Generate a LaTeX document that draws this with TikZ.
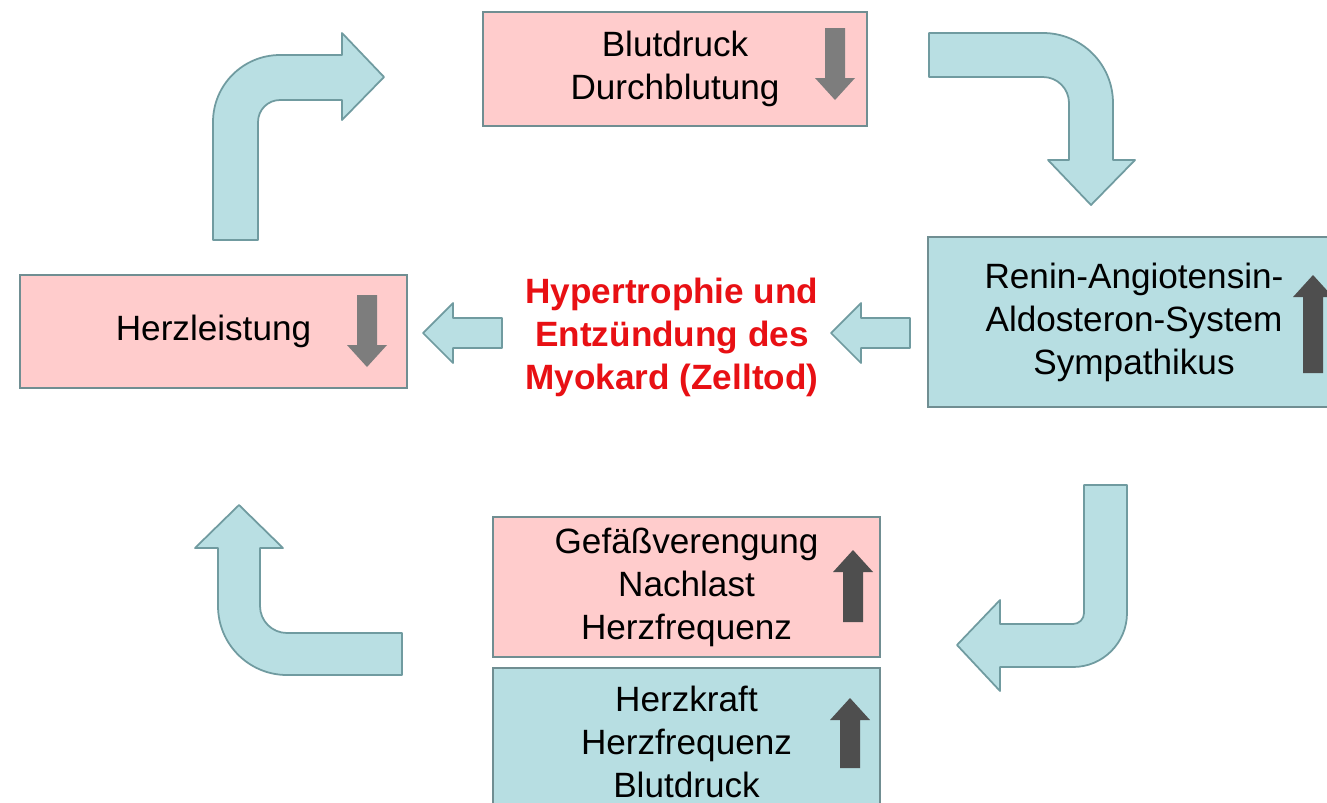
\documentclass[tikz,border=0pt]{standalone}
\usepackage{fontspec}
\setmainfont{Liberation Sans}
\usetikzlibrary{positioning}
\definecolor{rosa}{RGB}{255,204,204}
\definecolor{hellblau}{RGB}{183,222,226}
\definecolor{rand}{RGB}{112,142,146}
\definecolor{pfeilblau}{RGB}{185,223,227}
\definecolor{pfeilrand}{RGB}{112,155,160}
\definecolor{grau}{RGB}{125,125,125}
\definecolor{dunkelgrau}{RGB}{78,78,78}
\definecolor{warnrot}{RGB}{232,16,20}
\newcommand{\pfeilrunter}[3]{\fill[grau] ({#1-10},#2) -- ({#1+10},#2) -- ({#1+10},{#3-22}) -- ({#1+20},{#3-22}) -- (#1,#3) -- ({#1-20},{#3-22}) -- ({#1-10},{#3-22}) -- cycle;}
\newcommand{\pfeilhoch}[3]{\fill[dunkelgrau] ({#1-10},#3) -- ({#1+10},#3) -- ({#1+10},{#2+22}) -- ({#1+20},{#2+22}) -- (#1,#2) -- ({#1-20},{#2+22}) -- ({#1-10},{#2+22}) -- cycle;}
\tikzset{
  kasten/.style={draw=rand, line width=1.2pt, inner sep=0pt, align=center,
    font=\fontsize{20}{24.5}\selectfont},
  blockpfeil/.style={fill=pfeilblau, draw=pfeilrand, line width=1pt, line join=round}
}
\begin{document}
\begin{tikzpicture}[x=0.02cm,y=-0.02cm]
\clip (0,0) rectangle (1327,802);
\fill[white] (0,0) rectangle (1327,802);
% Kaesten
\node[kasten, fill=rosa, minimum width=7.68cm, minimum height=2.28cm] (blutdruck) at (675,69) {Blutdruck\\Durchblutung};
\node[kasten, fill=rosa, minimum width=7.74cm, minimum height=2.26cm] (herzleistung) at (213.5,331.5) {Herzleistung};
\node[kasten, fill=hellblau, minimum width=8.24cm, minimum height=3.4cm] (raas) at (1134,322) {Renin-Angiotensin-\\Aldosteron-System\\Sympathikus};
\node[kasten, fill=rosa, minimum width=7.74cm, minimum height=2.8cm] (nachlast) at (686.5,587) {Gefäßverengung\\Nachlast\\Herzfrequenz};
\node[kasten, fill=hellblau, minimum width=7.74cm, minimum height=2.94cm] (herzkraft) at (686.5,741.5) {Herzkraft\\Herzfrequenz\\Blutdruck};
\node[align=center, text=warnrot, font=\fontsize{20}{24.5}\selectfont\bfseries] (hypertrophie) at (672,337) {Hypertrophie und\\Entzündung des\\Myokard (Zelltod)};
% graue Pfeile
\pfeilrunter{835}{28}{100}
\pfeilrunter{367}{295}{367}
\pfeilhoch{1313}{275}{373}
\pfeilhoch{853}{550}{622}
\pfeilhoch{850}{698}{768}
% Blockpfeile
\draw[blockpfeil] (213,240) -- (213,122) arc[start angle=180, end angle=90, radius=1.34cm]
  -- (342,55) -- (342,33) -- (384,77) -- (342,120) -- (342,100) -- (280,100)
  arc[start angle=90, end angle=180, radius=0.44cm] -- (258,240) -- cycle;
\draw[blockpfeil] (929,33) -- (1043,33) arc[start angle=90, end angle=0, radius=1.4cm]
  -- (1113,160) -- (1135,160) -- (1091,205) -- (1048,160) -- (1069,160) -- (1069,103)
  arc[start angle=0, end angle=90, radius=0.52cm] -- (929,77) -- cycle;
\draw[blockpfeil] (1084,485) -- (1127,485) -- (1127,613) arc[start angle=0, end angle=-90, radius=1.08cm]
  -- (1000,667) -- (1000,691) -- (957,645) -- (1000,600) -- (1000,624) -- (1073,624)
  arc[start angle=-90, end angle=0, radius=0.22cm] -- cycle;
\draw[blockpfeil] (402,633) -- (402,675) -- (287,675) arc[start angle=-90, end angle=-180, radius=1.38cm]
  -- (218,548) -- (195,548) -- (239,505) -- (283,548) -- (260,548) -- (260,606)
  arc[start angle=180, end angle=270, radius=0.54cm] -- cycle;
\draw[blockpfeil] (502,318) -- (453,318) -- (453,303) -- (423,333) -- (453,363) -- (453,348) -- (502,348) -- cycle;
\draw[blockpfeil] (910,318) -- (861,318) -- (861,303) -- (831,333) -- (861,363) -- (861,348) -- (910,348) -- cycle;
\end{tikzpicture}
\end{document}
